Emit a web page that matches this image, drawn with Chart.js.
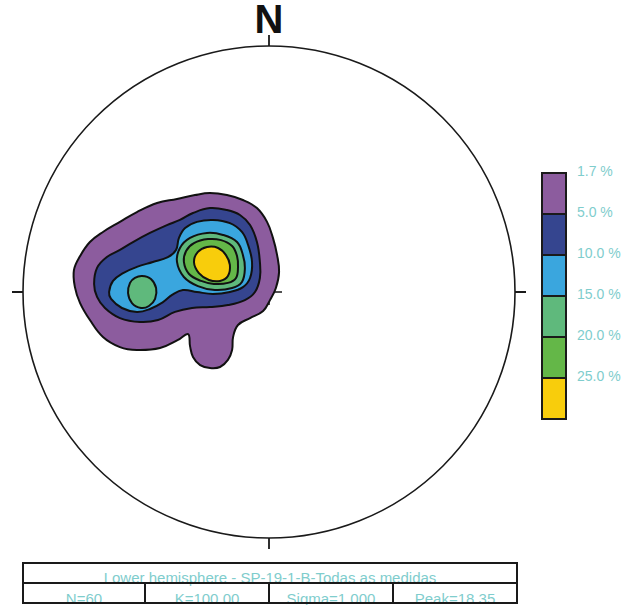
<!DOCTYPE html>
<html>
<head>
<meta charset="utf-8">
<script src="https://cdn.jsdelivr.net/npm/chart.js@4.4.1/dist/chart.umd.min.js"></script>
<style>
  body { margin: 0; background: #fff; font-family: "Liberation Sans", Arial, sans-serif; }
  #wrap { position: relative; width: 624px; height: 605px; overflow: hidden; }
  #north { position: absolute; left: 239px; top: -1px; width: 60px; text-align: center;
           font-size: 40px; line-height: 40px; font-weight: bold; color: #111; }
  #chartBox { position: absolute; left: 0; top: 0; width: 540px; height: 560px; }
  .swatch { position: absolute; left: 541px; width: 26px; height: 43px; box-sizing: border-box; border: 2px solid #1a1a1a; }
  .level { position: absolute; left: 577px; font-size: 14px; line-height: 14px; color: #7fcdcd; white-space: nowrap; }
  .cellText { position: absolute; font-size: 15px; line-height: 15px; color: #7fcdcd; text-align: center; white-space: nowrap; }
  .rule { position: absolute; background: #1a1a1a; }
</style>
</head>
<body>
<div id="wrap">
  <div id="north">N</div>
  <div id="chartBox"><canvas id="stereonet"></canvas></div>
  <div id="legend"></div>
  <div id="info"></div>
</div>
<script>
// contour polygons in net coordinates (unit circle), outer level first
const contour1_7 = [[-0.793,0.089],[-0.768,0.146],[-0.728,0.203],[-0.675,0.244],[-0.606,0.285],[-0.537,0.325],[-0.455,0.362],[-0.374,0.378],[-0.301,0.394],[-0.240,0.402],[-0.171,0.394],[-0.106,0.374],[-0.049,0.341],[-0.008,0.285],[0.016,0.220],[0.033,0.150],[0.041,0.081],[0.028,0.016],[0.004,-0.033],[-0.024,-0.077],[-0.077,-0.106],[-0.126,-0.134],[-0.146,-0.183],[-0.150,-0.236],[-0.167,-0.276],[-0.199,-0.305],[-0.240,-0.309],[-0.280,-0.297],[-0.309,-0.264],[-0.321,-0.220],[-0.329,-0.171],[-0.370,-0.195],[-0.443,-0.228],[-0.537,-0.236],[-0.606,-0.224],[-0.675,-0.183],[-0.728,-0.114],[-0.768,-0.045],[-0.789,0.020]];
const contour5_0 = [[-0.711,0.033],[-0.699,0.098],[-0.659,0.142],[-0.606,0.171],[-0.553,0.203],[-0.484,0.240],[-0.415,0.272],[-0.362,0.293],[-0.309,0.321],[-0.240,0.341],[-0.171,0.333],[-0.118,0.313],[-0.077,0.272],[-0.049,0.203],[-0.037,0.122],[-0.037,0.057],[-0.057,0.000],[-0.098,-0.033],[-0.167,-0.053],[-0.240,-0.061],[-0.313,-0.065],[-0.382,-0.081],[-0.451,-0.114],[-0.524,-0.122],[-0.606,-0.106],[-0.667,-0.065],[-0.699,-0.020]];
const contour10_0 = [[-0.650,0.000],[-0.634,0.045],[-0.593,0.077],[-0.537,0.102],[-0.472,0.122],[-0.411,0.142],[-0.378,0.171],[-0.366,0.220],[-0.341,0.260],[-0.293,0.285],[-0.228,0.293],[-0.159,0.280],[-0.110,0.244],[-0.085,0.191],[-0.069,0.122],[-0.077,0.057],[-0.106,0.020],[-0.159,0.000],[-0.228,-0.008],[-0.293,0.000],[-0.350,0.008],[-0.394,-0.012],[-0.431,-0.041],[-0.484,-0.069],[-0.537,-0.081],[-0.598,-0.065],[-0.642,-0.028]];
const contour15_0a = [[-0.516,0.065],[-0.480,0.053],[-0.459,0.016],[-0.463,-0.028],[-0.488,-0.057],[-0.520,-0.065],[-0.557,-0.045],[-0.573,-0.004],[-0.565,0.037],[-0.545,0.057]];
const contour15_0b = [[-0.374,0.122],[-0.362,0.179],[-0.321,0.220],[-0.252,0.240],[-0.187,0.232],[-0.130,0.203],[-0.106,0.150],[-0.098,0.098],[-0.110,0.041],[-0.150,0.016],[-0.220,0.008],[-0.289,0.024],[-0.346,0.061]];
const contour20_0 = [[-0.346,0.122],[-0.337,0.167],[-0.305,0.199],[-0.248,0.215],[-0.195,0.211],[-0.150,0.187],[-0.130,0.146],[-0.126,0.102],[-0.134,0.057],[-0.167,0.037],[-0.224,0.033],[-0.276,0.045],[-0.325,0.073]];
const contour25_0 = [[-0.305,0.122],[-0.289,0.163],[-0.252,0.183],[-0.207,0.179],[-0.175,0.150],[-0.159,0.110],[-0.167,0.065],[-0.199,0.045],[-0.244,0.049],[-0.285,0.077]];

const levelLabels = ['1.7 %', '5.0 %', '10.0 %', '15.0 %', '20.0 %', '25.0 %'];
const levelColors = ['#8c5c9e', '#35458f', '#3aa6de', '#5fb97c', '#64b748', '#f8cd0c'];

const titleText = 'Lower hemisphere - SP-19-1-B-Todas as medidas';
const statsLabels = ['N=60', 'K=100.00', 'Sigma=1.000', 'Peak=18.35'];

// which colour band each polygon fills
const contourSets = [
  { pts: contour1_7, level: 0 },
  { pts: contour5_0, level: 1 },
  { pts: contour10_0, level: 2 },
  { pts: contour15_0a, level: 3 },
  { pts: contour15_0b, level: 3 },
  { pts: contour20_0, level: 4 },
  { pts: contour25_0, level: 5 }
];

// turn every contour line into a closed smooth loop
const closeContours = {
  id: 'closeContours',
  afterDatasetsUpdate(chart) {
    chart.data.datasets.forEach((ds, i) => {
      const line = chart.getDatasetMeta(i).dataset;
      if (!line) return;
      line._loop = true;
      line._fullLoop = true;
      line._pointsUpdated = false;
      line._segments = undefined;
      line._path = undefined;
    });
  }
};

// primitive circle, cardinal ticks and centre cross
const netFrame = {
  id: 'netFrame',
  beforeDatasetsDraw(chart) {
    const { ctx, scales: { x, y } } = chart;
    const cx = x.getPixelForValue(0);
    const cy = y.getPixelForValue(0);
    ctx.save();
    ctx.strokeStyle = '#1a1a1a';
    ctx.lineWidth = 1.5;
    ctx.beginPath();
    ctx.moveTo(cx - 13, cy); ctx.lineTo(cx + 13, cy);
    ctx.moveTo(cx, cy - 13); ctx.lineTo(cx, cy + 13);
    ctx.stroke();
    ctx.restore();
  },
  afterDatasetsDraw(chart) {
    const { ctx, scales: { x, y } } = chart;
    const cx = x.getPixelForValue(0);
    const cy = y.getPixelForValue(0);
    const r = x.getPixelForValue(1) - cx;
    const tick = 11;
    ctx.save();
    ctx.strokeStyle = '#1a1a1a';
    ctx.lineWidth = 1.6;
    ctx.beginPath();
    ctx.arc(cx, cy, r, 0, Math.PI * 2);
    ctx.stroke();
    ctx.lineWidth = 1.8;
    ctx.beginPath();
    ctx.moveTo(cx - r - tick, cy); ctx.lineTo(cx - r, cy);
    ctx.moveTo(cx + r, cy); ctx.lineTo(cx + r + tick, cy);
    ctx.moveTo(cx, cy - r - tick); ctx.lineTo(cx, cy - r);
    ctx.moveTo(cx, cy + r); ctx.lineTo(cx, cy + r + tick);
    ctx.stroke();
    ctx.restore();
  }
};

function buildDatasets() {
  return contourSets.map((c, i) => ({
    data: c.pts.map(p => ({ x: p[0], y: p[1] })),
    showLine: true,
    fill: 'shape',
    backgroundColor: levelColors[c.level],
    borderColor: '#111',
    borderWidth: 2,
    tension: 0.4,
    pointRadius: 0,
    order: contourSets.length - i
  }));
}

function renderNet() {
  const ctx = document.getElementById('stereonet').getContext('2d');
  new Chart(ctx, {
    type: 'scatter',
    data: { datasets: buildDatasets() },
    options: {
      responsive: true,
      maintainAspectRatio: false,
      animation: false,
      events: [],
      layout: { padding: { left: 23, right: 25, top: 46, bottom: 22 } },
      scales: {
        x: { type: 'linear', min: -1, max: 1, display: false },
        y: { type: 'linear', min: -1, max: 1, display: false }
      },
      plugins: {
        legend: { display: false },
        tooltip: { enabled: false }
      }
    },
    plugins: [closeContours, netFrame]
  });
}

function renderLegend() {
  const legend = document.getElementById('legend');
  const top = 172;
  const step = 41;
  levelColors.forEach((col, i) => {
    const sw = document.createElement('div');
    sw.className = 'swatch';
    sw.style.top = (top + step * i) + 'px';
    sw.style.background = col;
    legend.appendChild(sw);
  });
  levelLabels.forEach((txt, i) => {
    const lab = document.createElement('div');
    lab.className = 'level';
    lab.style.top = (top + step * i - 8) + 'px';
    lab.textContent = txt;
    legend.appendChild(lab);
  });
}

function addRule(parent, left, top, width, height) {
  const d = document.createElement('div');
  d.className = 'rule';
  d.style.left = left + 'px';
  d.style.top = top + 'px';
  d.style.width = width + 'px';
  d.style.height = height + 'px';
  parent.appendChild(d);
}

function renderInfo() {
  const info = document.getElementById('info');
  const left = 23, right = 517, top = 563, mid = 583, bottom = 603;
  const cuts = [left, 145, 269, 393, right];

  const title = document.createElement('div');
  title.className = 'cellText';
  title.style.left = left + 'px';
  title.style.width = (right - left) + 'px';
  title.style.top = '570px';
  title.textContent = titleText;
  info.appendChild(title);

  statsLabels.forEach((txt, i) => {
    const cell = document.createElement('div');
    cell.className = 'cellText';
    cell.style.left = cuts[i] + 'px';
    cell.style.width = (cuts[i + 1] - cuts[i]) + 'px';
    cell.style.top = '591px';
    cell.textContent = txt;
    info.appendChild(cell);
  });

  addRule(info, left - 1, top - 1, right - left + 2, 2);
  addRule(info, left - 1, mid - 1, right - left + 2, 2);
  addRule(info, left - 1, bottom - 1, right - left + 2, 2);
  cuts.forEach((xc, i) => {
    const t = (i === 0 || i === cuts.length - 1) ? top - 1 : mid - 1;
    addRule(info, xc - 1, t, 2, bottom - t + 1);
  });
}

renderNet();
renderLegend();
renderInfo();
</script>
</body>
</html>
